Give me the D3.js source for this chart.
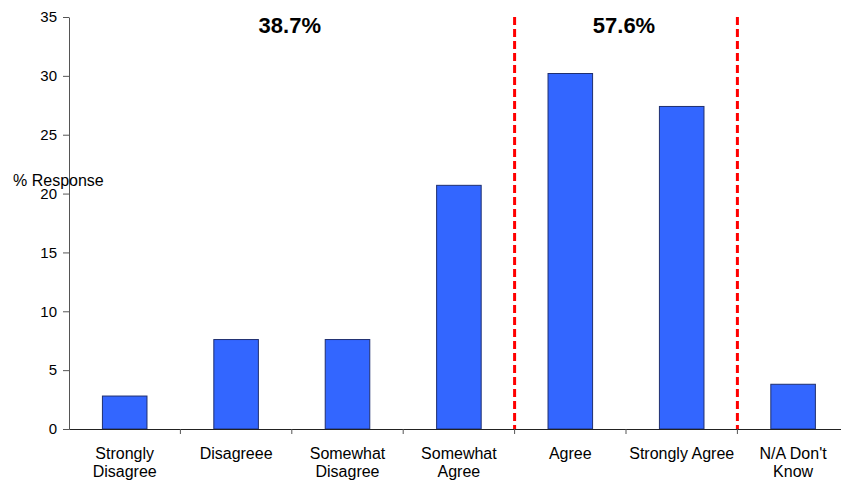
<!DOCTYPE html>
<html>
<head>
<meta charset="utf-8">
<script src="https://cdn.jsdelivr.net/npm/d3@7"></script>
<style>
  html, body { margin: 0; padding: 0; background: #fff; }
  svg { display: block; font-family: Arial, "Liberation Sans", sans-serif; }
</style>
</head>
<body>
<svg id="chart" width="841" height="482"></svg>
<script>
// Survey response distribution (% of respondents per answer)
const categories = ["Strongly\nDisagree", "Disagreee", "Somewhat\nDisagree", "Somewhat\nAgree", "Agree", "Strongly Agree", "N/A Don't\nKnow"];
const values = [2.8, 7.6, 7.6, 20.7, 30.2, 27.4, 3.8];
const yTicks = [0, 5, 10, 15, 20, 25, 30, 35];
// Group summaries: label text, first and last category of each group
const groupLabels = ["38.7%", "57.6%"];
const groupSpans = [[0, 3], [4, 5]];
// Dividers sit before these category indices
const dividerBefore = [4, 6];

const svg = d3.select("#chart");
const plotLeft = 69, bandStep = 111.4, plotTop = 17, plotBottom = 429;

const x = d3.scaleBand()
  .domain(categories)
  .range([plotLeft, plotLeft + bandStep * categories.length])
  .paddingInner(0.6)
  .paddingOuter(0.3);

const y = d3.scaleLinear().domain([0, 35]).range([plotBottom, plotTop]);

// Left edge of band i (boundary between categories)
const edge = i => x.range()[0] + i * x.step();

// Bars
svg.append("g").selectAll("rect")
  .data(values)
  .join("rect")
  .attr("x", (d, i) => x(categories[i]))
  .attr("y", d => y(d))
  .attr("width", x.bandwidth())
  .attr("height", d => y(0) - y(d))
  .attr("fill", "#3366ff")
  .attr("stroke", "#1f2f70")
  .attr("stroke-width", 1);

// Y axis
const yAxis = svg.append("g")
  .attr("transform", `translate(${plotLeft},0)`)
  .call(d3.axisLeft(y).tickValues(yTicks).tickSize(6).tickSizeOuter(0).tickPadding(6));
yAxis.select(".domain").attr("stroke", "#555");
yAxis.selectAll(".tick line").attr("stroke", "#555");
yAxis.selectAll(".tick text").attr("font-size", 15).attr("fill", "#000")
  .attr("font-family", "Arial, 'Liberation Sans', sans-serif");

// X axis: baseline with ticks on the band boundaries
const xAxis = svg.append("g")
  .attr("transform", `translate(0,${plotBottom})`)
  .call(d3.axisBottom(x).tickSize(0).tickSizeOuter(0).tickFormat(""));
xAxis.select(".domain").attr("stroke", "#222").attr("stroke-width", 1.2);

svg.append("g").selectAll("line")
  .data(d3.range(1, categories.length + 1))
  .join("line")
  .attr("x1", i => edge(i)).attr("x2", i => edge(i))
  .attr("y1", plotBottom).attr("y2", plotBottom + 5)
  .attr("stroke", "#555");

// Category labels
const lab = svg.append("g").attr("font-size", 16).attr("fill", "#000").attr("text-anchor", "middle");
categories.forEach(c => {
  const cx = x(c) + x.bandwidth() / 2;
  const t = lab.append("text").attr("x", cx).attr("y", 459);
  c.split("\n").forEach((line, j) => {
    t.append("tspan")
      .attr("x", cx)
      .attr("dy", j === 0 ? 0 : 18)
      .text(line);
  });
});

// Red dashed dividers
svg.append("g").selectAll("line")
  .data(dividerBefore)
  .join("line")
  .attr("x1", i => edge(i))
  .attr("x2", i => edge(i))
  .attr("y1", plotTop)
  .attr("y2", plotBottom)
  .attr("stroke", "#ff0000")
  .attr("stroke-width", 3)
  .attr("stroke-dasharray", "8,4");

// Group summary labels
svg.append("g").selectAll("text")
  .data(groupLabels)
  .join("text")
  .attr("x", (d, i) => (edge(groupSpans[i][0]) + edge(groupSpans[i][1] + 1)) / 2 - 2)
  .attr("y", 33)
  .attr("text-anchor", "middle")
  .attr("font-size", 22)
  .attr("font-weight", "bold")
  .attr("fill", "#000")
  .text(d => d);

// Y axis title
svg.append("text")
  .attr("x", 13)
  .attr("y", 186)
  .attr("font-size", 16)
  .attr("fill", "#000")
  .text("% Response");
</script>
</body>
</html>
